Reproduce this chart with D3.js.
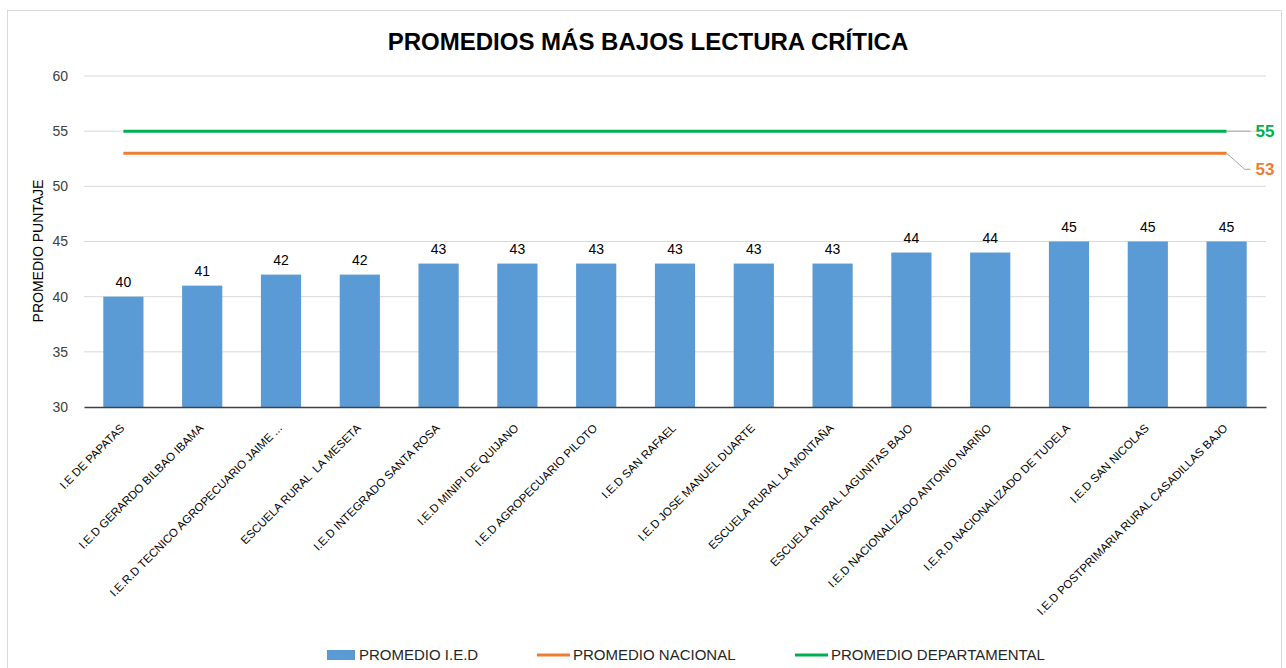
<!DOCTYPE html>
<html>
<head>
<meta charset="utf-8">
<script src="https://cdn.jsdelivr.net/npm/d3@7"></script>
<style>
  body { margin: 0; background: #fff; }
  svg { font-family: "Liberation Sans", Arial, sans-serif; }
  text { white-space: pre; }
</style>
</head>
<body>
<svg id="chart" width="1286" height="668"></svg>
<script>
// data
const schools = [
  'I.E DE PAPATAS',
  'I.E.D GERARDO BILBAO IBAMA',
  'I.E.R.D TECNICO AGROPECUARIO JAIME ...',
  'ESCUELA RURAL  LA MESETA',
  'I.E.D INTEGRADO SANTA ROSA',
  'I.E.D MINIPI DE QUIJANO',
  'I.E.D AGROPECUARIO PILOTO',
  'I.E.D SAN RAFAEL',
  'I.E.D JOSE MANUEL DUARTE',
  'ESCUELA RURAL LA MONTAÑA',
  'ESCUELA RURAL LAGUNITAS BAJO',
  'I.E.D NACIONALIZADO ANTONIO NARIÑO',
  'I.E.R.D NACIONALIZADO DE TUDELA',
  'I.E.D SAN NICOLAS',
  'I.E.D POSTPRIMARIA RURAL CASADILLAS BAJO'
];
const promedioIED = [40, 41, 42, 42, 43, 43, 43, 43, 43, 43, 44, 44, 45, 45, 45];
const promedioNacional = 53;
const promedioDepartamental = 55;
const yTicks = [30, 35, 40, 45, 50, 55, 60];

const blue = '#5B9BD5', orange = '#ED7D31', green = '#00B050';

const svg = d3.select('#chart');
const margin = { top: 76, right: 20, bottom: 261, left: 84 };
const width = 1286 - margin.left - margin.right;
const height = 668 - margin.top - margin.bottom;

// outer frame
svg.append('rect')
  .attr('x', 7.5).attr('y', 10.5)
  .attr('width', 1274).attr('height', 670)
  .attr('fill', 'none').attr('stroke', '#d9d9d9');

svg.append('text')
  .attr('x', 648).attr('y', 50)
  .attr('text-anchor', 'middle')
  .attr('font-size', 24).attr('font-weight', 'bold')
  .attr('fill', '#000')
  .text('PROMEDIOS MÁS BAJOS LECTURA CRÍTICA');

const g = svg.append('g').attr('transform', `translate(${margin.left},${margin.top})`);

const x = d3.scaleBand().domain(schools).range([0, width]).paddingInner(0.49).paddingOuter(0.245);
const y = d3.scaleLinear().domain([30, 60]).range([height, 0]);

// gridlines
g.append('g')
  .selectAll('line')
  .data(yTicks.filter(d => d > 30))
  .join('line')
  .attr('x1', 0).attr('x2', width)
  .attr('y1', d => y(d)).attr('y2', d => y(d))
  .attr('stroke', '#d9d9d9').attr('stroke-width', 1);

// y axis labels
const yAxis = g.append('g')
  .call(d3.axisLeft(y).tickValues(yTicks).tickSize(0).tickPadding(16));
yAxis.select('.domain').remove();
yAxis.selectAll('text')
  .attr('font-size', 14).attr('fill', '#404040')
  .attr('font-family', '"Liberation Sans", Arial, sans-serif');

svg.append('text')
  .attr('transform', `translate(43,251) rotate(-90)`)
  .attr('text-anchor', 'middle')
  .attr('font-size', 14).attr('fill', '#000')
  .text('PROMEDIO PUNTAJE');

// bars
g.selectAll('rect.bar')
  .data(promedioIED)
  .join('rect')
  .attr('class', 'bar')
  .attr('x', (d, i) => x(schools[i]))
  .attr('width', x.bandwidth())
  .attr('y', d => y(d))
  .attr('height', d => height - y(d))
  .attr('fill', blue);

g.selectAll('text.val')
  .data(promedioIED)
  .join('text')
  .attr('class', 'val')
  .attr('x', (d, i) => x(schools[i]) + x.bandwidth() / 2)
  .attr('y', d => y(d) - 10)
  .attr('text-anchor', 'middle')
  .attr('font-size', 14).attr('fill', '#000')
  .text(d => d);

// x axis
const xAxis = g.append('g')
  .attr('transform', `translate(0,${height})`)
  .call(d3.axisBottom(x).tickSize(0).tickPadding(0));
xAxis.select('.domain').attr('stroke', '#404040').attr('stroke-width', 1.5);
xAxis.selectAll('text')
  .attr('font-size', 11.5).attr('fill', '#000')
  .attr('font-family', '"Liberation Sans", Arial, sans-serif')
  .attr('text-anchor', 'end')
  .attr('dy', '0.35em')
  .attr('transform', 'translate(-1,19) rotate(-45)');

// reference lines
const first = x(schools[0]) + x.bandwidth() / 2;
const last = x(schools[schools.length - 1]) + x.bandwidth() / 2;

const refs = [
  { value: promedioDepartamental, color: green, dy: 0 },
  { value: promedioNacional, color: orange, dy: 16 }
];

refs.forEach(r => {
  g.append('line')
    .attr('x1', first).attr('x2', last)
    .attr('y1', y(r.value)).attr('y2', y(r.value))
    .attr('stroke', r.color).attr('stroke-width', 3);
  const ly = y(r.value) + r.dy;
  g.append('path')
    .attr('d', d3.line()([[last, y(r.value)], [last + 18, ly], [last + 24, ly]]))
    .attr('fill', 'none').attr('stroke', '#a6a6a6').attr('stroke-width', 1);
  g.append('text')
    .attr('x', last + 29).attr('y', ly)
    .attr('dy', '0.35em')
    .attr('font-size', 17).attr('font-weight', 'bold')
    .attr('fill', r.color)
    .text(r.value);
});

// legend
const legend = svg.append('g').attr('transform', 'translate(0,655)');
const items = [
  { label: 'PROMEDIO I.E.D', color: blue, type: 'rect', x: 327 },
  { label: 'PROMEDIO NACIONAL', color: orange, type: 'line', x: 537 },
  { label: 'PROMEDIO DEPARTAMENTAL', color: green, type: 'line', x: 795 }
];
items.forEach(it => {
  if (it.type === 'rect') {
    legend.append('rect').attr('x', it.x).attr('y', -5).attr('width', 28).attr('height', 10).attr('fill', it.color);
  } else {
    legend.append('line').attr('x1', it.x).attr('x2', it.x + 33).attr('y1', 0).attr('y2', 0)
      .attr('stroke', it.color).attr('stroke-width', 3);
  }
  legend.append('text')
    .attr('x', it.x + (it.type === 'rect' ? 32 : 36)).attr('y', 0).attr('dy', '0.35em')
    .attr('font-size', 15).attr('fill', '#262626')
    .text(it.label);
});
</script>
</body>
</html>
